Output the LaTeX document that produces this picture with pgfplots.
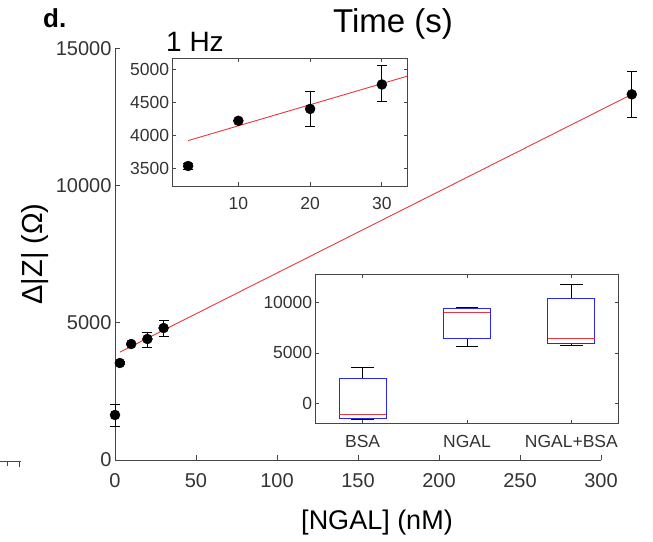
\documentclass[border=0pt]{standalone}
\usepackage{fontspec}
\setmainfont{Liberation Sans}
\usepackage{pgfplots}
\pgfplotsset{compat=1.18}
\usepgfplotslibrary{statistics}

\definecolor{axgray}{RGB}{70,70,70}
\definecolor{fitred}{RGB}{232,55,65}
\definecolor{boxblue}{RGB}{40,40,235}
\newcommand\fs[1]{\fontsize{#1}{#1}\selectfont}

\pgfplotsset{
  every non boxed x axis/.style={},
  every non boxed y axis/.style={},
  matlab/.style={
    scale only axis, enlargelimits=false,
    axis line style={axgray, line width=0.8pt, -},
    every tick/.style={axgray, line width=0.8pt},
    tick align=inside, major tick length=5pt,
    /pgf/number format/assume math mode=true,
    /pgf/number format/1000 sep={}, scaled ticks=false,
    tick label style={text=black!80},
  },
}

\begin{document}
\begin{tikzpicture}
\useasboundingbox (0pt,0pt) rectangle (653pt,541pt);

% main calibration plot
\begin{axis}[matlab, at={(115pt,81pt)}, anchor=south west,
  width=486pt, height=411.7pt,
  xmin=0, xmax=300, ymin=0, ymax=15000,
  axis x line*=bottom, axis y line*=left, clip=false,
  xtick={0,50,...,300}, ytick={0,5000,10000,15000},
  tick label style={font=\fs{20}},
  xticklabel style={yshift=-10pt}]
\addplot[fitred, line width=0.9pt] coordinates {(3,3930) (319,13322)};
\addplot[black, only marks, mark=*, mark size=5pt,
  error bars/.cd, y dir=both, y explicit,
  error bar style={black, line width=0.9pt},
  error mark options={black, rotate=90, mark size=5pt, line width=0.9pt}]
  coordinates {
  (0,1640) += (0,400) -= (0,400)
  (3,3534) += (0,50) -= (0,50)
  (10,4226) += (0,0) -= (0,0)
  (20,4408) += (0,225) -= (0,290)
  (30,4809) += (0,260) -= (0,320)
  (319,13322) += (0,825) -= (0,837)
};
\end{axis}

% inset: low concentrations
\begin{axis}[matlab, at={(172.7pt,355pt)}, anchor=south west,
  width=234.3pt, height=127.7pt,
  xmin=0.85, xmax=33.5, ymin=3232, ymax=5167,
  xtick={10,20,30}, ytick={3500,4000,4500,5000},
  axis background/.style={fill=white}, major tick length=3.5pt,
  tick label style={font=\fs{17.5}},
  xticklabel style={yshift=-8pt}]
\addplot[fitred, line width=0.9pt] coordinates {(3,3920) (33.5,4895)};
\addplot[black, only marks, mark=*, mark size=5pt,
  error bars/.cd, y dir=both, y explicit,
  error bar style={black, line width=0.9pt},
  error mark options={black, rotate=90, mark size=5pt, line width=0.9pt}]
  coordinates {
  (3,3535) += (0,45) -= (0,45)
  (10,4220) += (0,0) -= (0,0)
  (20,4400) += (0,260) -= (0,260)
  (30,4770) += (0,290) -= (0,255)
};
\end{axis}

% inset: selectivity box plot
\begin{axis}[matlab, at={(315.7pt,117.7pt)}, anchor=south west,
  width=302.6pt, height=149pt,
  xmin=0.55, xmax=3.45, ymin=-2000, ymax=12830,
  xtick={1,2,3}, xticklabels={BSA,NGAL,NGAL+BSA},
  ytick={0,5000,10000},
  axis background/.style={fill=white}, major tick length=3.5pt,
  tick label style={font=\fs{17.5}},
  xticklabel style={yshift=-8pt},
  boxplot/draw direction=y]
\addplot[black, line width=0.9pt, boxplot prepared={draw position=1,
  median=-1090, upper quartile=2415, lower quartile=-1530,
  upper whisker=3580, lower whisker=-1590,
  box extend=0.45, whisker extend=0.22,
  every box/.style={draw=boxblue}, every median/.style={draw=fitred}}]
  coordinates {};
\addplot[black, line width=0.9pt, boxplot prepared={draw position=2,
  median=9005, upper quartile=9400, lower quartile=6460,
  upper whisker=9540, lower whisker=5630,
  box extend=0.45, whisker extend=0.22,
  every box/.style={draw=boxblue}, every median/.style={draw=fitred}}]
  coordinates {};
\addplot[black, line width=0.9pt, boxplot prepared={draw position=3,
  median=6420, upper quartile=10440, lower quartile=5925,
  upper whisker=11830, lower whisker=5765,
  box extend=0.45, whisker extend=0.22,
  every box/.style={draw=boxblue}, every median/.style={draw=fitred}}]
  coordinates {};
\end{axis}

% labels
\node[font=\fs{26}\bfseries, anchor=base west, inner sep=0] at (43pt,513pt) {d.};
\node[font=\fs{33}, anchor=base, inner sep=0] at (393pt,508pt) {Time (s)};
\node[font=\fs{28}, anchor=base west, inner sep=0] at (166pt,489.5pt) {1 Hz};
\node[font=\fs{27}, anchor=base, inner sep=0] at (377pt,12pt) {[NGAL] (nM)};
\node[font=\fs{29}, rotate=90, inner sep=0] at (35pt,287pt) {Δ|Z| (Ω)};

% stray axis fragment at the left edge
\draw[axgray, line width=0.8pt] (0pt,79.5pt) -- (21pt,79.5pt) (7pt,79.5pt) -- (7pt,75pt) (19pt,79.5pt) -- (19pt,74.5pt);
\end{tikzpicture}
\end{document}
